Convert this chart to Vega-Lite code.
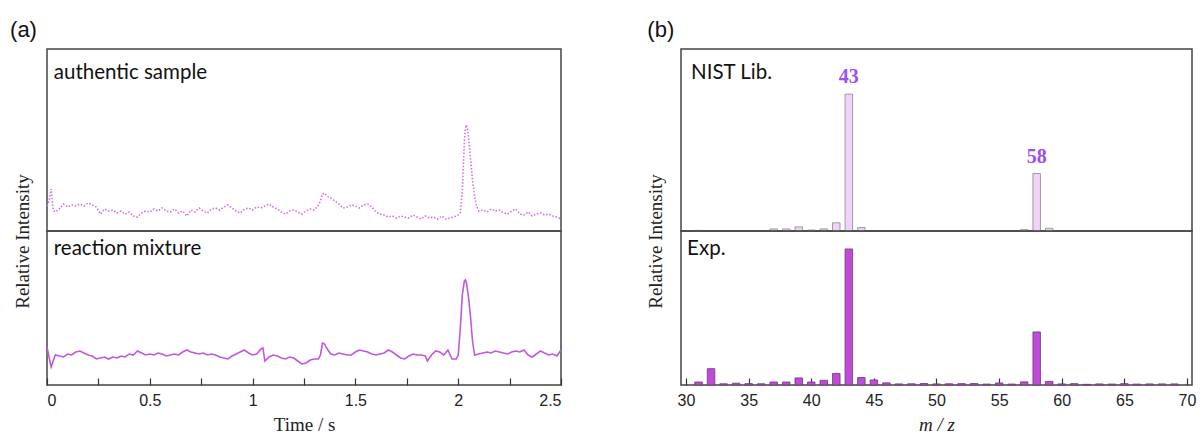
{
"$schema": "https://vega.github.io/schema/vega-lite/v6.json",
"background": "white",
"padding": {"left": 10, "top": 19, "right": 0, "bottom": 0},
"datasets": {
"a_auth": [
{"t":0.00,"v":25},{"t":0.01,"v":30},{"t":0.02,"v":42},{"t":0.03,"v":21},{"t":0.04,"v":19},{"t":0.06,"v":22},{"t":0.08,"v":27},{"t":0.10,"v":24},{"t":0.12,"v":26},{"t":0.14,"v":25},{"t":0.16,"v":27},{"t":0.18,"v":25},{"t":0.20,"v":28},{"t":0.22,"v":26},{"t":0.24,"v":24},{"t":0.26,"v":17},{"t":0.28,"v":22},{"t":0.30,"v":20},{"t":0.32,"v":21},{"t":0.34,"v":18},{"t":0.36,"v":20},{"t":0.38,"v":17},{"t":0.40,"v":19},{"t":0.42,"v":15},{"t":0.44,"v":14},{"t":0.46,"v":18},{"t":0.48,"v":20},{"t":0.50,"v":19},{"t":0.52,"v":22},{"t":0.54,"v":20},{"t":0.56,"v":23},{"t":0.58,"v":20},{"t":0.60,"v":19},{"t":0.62,"v":22},{"t":0.64,"v":18},{"t":0.66,"v":20},{"t":0.68,"v":15},{"t":0.70,"v":21},{"t":0.72,"v":19},{"t":0.74,"v":23},{"t":0.76,"v":20},{"t":0.78,"v":18},{"t":0.80,"v":22},{"t":0.82,"v":23},{"t":0.84,"v":21},{"t":0.86,"v":24},{"t":0.88,"v":26},{"t":0.90,"v":23},{"t":0.92,"v":20},{"t":0.94,"v":18},{"t":0.96,"v":22},{"t":0.98,"v":23},{"t":1.00,"v":21},{"t":1.02,"v":24},{"t":1.04,"v":23},{"t":1.06,"v":25},{"t":1.08,"v":27},{"t":1.10,"v":24},{"t":1.12,"v":22},{"t":1.14,"v":19},{"t":1.16,"v":17},{"t":1.18,"v":20},{"t":1.20,"v":21},{"t":1.22,"v":19},{"t":1.24,"v":17},{"t":1.26,"v":20},{"t":1.28,"v":22},{"t":1.30,"v":21},{"t":1.32,"v":26},{"t":1.33,"v":30},{"t":1.34,"v":37},{"t":1.35,"v":38},{"t":1.36,"v":35},{"t":1.38,"v":33},{"t":1.40,"v":30},{"t":1.42,"v":27},{"t":1.44,"v":23},{"t":1.46,"v":24},{"t":1.48,"v":26},{"t":1.50,"v":25},{"t":1.52,"v":23},{"t":1.54,"v":26},{"t":1.56,"v":27},{"t":1.58,"v":24},{"t":1.60,"v":19},{"t":1.62,"v":17},{"t":1.64,"v":16},{"t":1.66,"v":14},{"t":1.68,"v":15},{"t":1.70,"v":13},{"t":1.72,"v":15},{"t":1.74,"v":14},{"t":1.76,"v":13},{"t":1.78,"v":16},{"t":1.80,"v":14},{"t":1.82,"v":12},{"t":1.84,"v":15},{"t":1.86,"v":13},{"t":1.88,"v":14},{"t":1.90,"v":12},{"t":1.92,"v":15},{"t":1.94,"v":12},{"t":1.96,"v":13},{"t":1.98,"v":14},{"t":2.00,"v":16},{"t":2.01,"v":18},{"t":2.02,"v":40},{"t":2.03,"v":90},{"t":2.035,"v":103},{"t":2.04,"v":106},{"t":2.045,"v":102},{"t":2.05,"v":94},{"t":2.06,"v":72},{"t":2.07,"v":50},{"t":2.08,"v":34},{"t":2.09,"v":25},{"t":2.10,"v":20},{"t":2.12,"v":21},{"t":2.14,"v":19},{"t":2.16,"v":22},{"t":2.18,"v":20},{"t":2.20,"v":21},{"t":2.22,"v":18},{"t":2.24,"v":17},{"t":2.26,"v":20},{"t":2.28,"v":22},{"t":2.30,"v":17},{"t":2.32,"v":16},{"t":2.34,"v":19},{"t":2.36,"v":15},{"t":2.38,"v":17},{"t":2.40,"v":18},{"t":2.42,"v":16},{"t":2.44,"v":17},{"t":2.46,"v":15},{"t":2.48,"v":14},{"t":2.50,"v":12}
],
"a_rxn": [
{"t":0.00,"v":38},{"t":0.01,"v":28},{"t":0.02,"v":18},{"t":0.03,"v":24},{"t":0.04,"v":30},{"t":0.06,"v":29},{"t":0.08,"v":28},{"t":0.10,"v":31},{"t":0.12,"v":30},{"t":0.14,"v":33},{"t":0.16,"v":34},{"t":0.18,"v":32},{"t":0.20,"v":30},{"t":0.22,"v":29},{"t":0.24,"v":26},{"t":0.26,"v":27},{"t":0.28,"v":28},{"t":0.30,"v":26},{"t":0.32,"v":28},{"t":0.34,"v":27},{"t":0.36,"v":29},{"t":0.38,"v":28},{"t":0.40,"v":31},{"t":0.42,"v":30},{"t":0.44,"v":34},{"t":0.46,"v":32},{"t":0.48,"v":30},{"t":0.50,"v":31},{"t":0.52,"v":30},{"t":0.54,"v":32},{"t":0.56,"v":31},{"t":0.58,"v":29},{"t":0.60,"v":30},{"t":0.62,"v":31},{"t":0.64,"v":30},{"t":0.66,"v":33},{"t":0.68,"v":35},{"t":0.70,"v":33},{"t":0.72,"v":32},{"t":0.74,"v":31},{"t":0.76,"v":32},{"t":0.78,"v":30},{"t":0.80,"v":31},{"t":0.82,"v":30},{"t":0.84,"v":28},{"t":0.86,"v":27},{"t":0.88,"v":26},{"t":0.90,"v":29},{"t":0.92,"v":31},{"t":0.94,"v":33},{"t":0.96,"v":35},{"t":0.98,"v":32},{"t":1.00,"v":30},{"t":1.02,"v":31},{"t":1.04,"v":36},{"t":1.05,"v":37},{"t":1.06,"v":24},{"t":1.08,"v":28},{"t":1.10,"v":30},{"t":1.12,"v":29},{"t":1.14,"v":27},{"t":1.16,"v":26},{"t":1.18,"v":28},{"t":1.20,"v":27},{"t":1.22,"v":24},{"t":1.24,"v":21},{"t":1.26,"v":22},{"t":1.28,"v":25},{"t":1.30,"v":26},{"t":1.32,"v":26},{"t":1.33,"v":30},{"t":1.34,"v":42},{"t":1.35,"v":41},{"t":1.36,"v":37},{"t":1.38,"v":31},{"t":1.40,"v":30},{"t":1.42,"v":32},{"t":1.44,"v":31},{"t":1.46,"v":30},{"t":1.48,"v":30},{"t":1.50,"v":33},{"t":1.52,"v":35},{"t":1.54,"v":34},{"t":1.56,"v":33},{"t":1.58,"v":31},{"t":1.60,"v":30},{"t":1.62,"v":31},{"t":1.64,"v":32},{"t":1.66,"v":35},{"t":1.68,"v":33},{"t":1.70,"v":30},{"t":1.72,"v":27},{"t":1.74,"v":26},{"t":1.76,"v":29},{"t":1.78,"v":31},{"t":1.80,"v":30},{"t":1.82,"v":30},{"t":1.84,"v":29},{"t":1.85,"v":24},{"t":1.87,"v":30},{"t":1.89,"v":34},{"t":1.91,"v":33},{"t":1.93,"v":30},{"t":1.95,"v":35},{"t":1.97,"v":26},{"t":1.99,"v":26},{"t":2.00,"v":30},{"t":2.01,"v":56},{"t":2.02,"v":90},{"t":2.03,"v":104},{"t":2.035,"v":105},{"t":2.04,"v":102},{"t":2.05,"v":88},{"t":2.06,"v":68},{"t":2.07,"v":43},{"t":2.08,"v":30},{"t":2.10,"v":31},{"t":2.12,"v":32},{"t":2.14,"v":33},{"t":2.16,"v":32},{"t":2.18,"v":34},{"t":2.20,"v":33},{"t":2.22,"v":32},{"t":2.24,"v":31},{"t":2.26,"v":33},{"t":2.28,"v":34},{"t":2.30,"v":33},{"t":2.32,"v":35},{"t":2.34,"v":30},{"t":2.36,"v":28},{"t":2.38,"v":31},{"t":2.40,"v":34},{"t":2.42,"v":32},{"t":2.44,"v":30},{"t":2.46,"v":31},{"t":2.48,"v":29},{"t":2.50,"v":35}
],
"b_nist": [
{"mz":31,"i":0.5},{"mz":37,"i":1.5},{"mz":38,"i":1.5},{"mz":39,"i":3},{"mz":40,"i":0.7},{"mz":41,"i":1.5},{"mz":42,"i":6},{"mz":43,"i":100},{"mz":44,"i":2.5},{"mz":57,"i":1},{"mz":58,"i":42},{"mz":59,"i":2}
],
"b_exp": [
{"mz":31,"i":2.2},{"mz":32,"i":12},{"mz":33,"i":0.9},{"mz":34,"i":1.3},{"mz":35,"i":1},{"mz":36,"i":0.9},{"mz":37,"i":2.2},{"mz":38,"i":2.2},{"mz":39,"i":5.2},{"mz":40,"i":2.2},{"mz":41,"i":3.5},{"mz":42,"i":8.5},{"mz":43,"i":100},{"mz":44,"i":5.5},{"mz":45,"i":3.7},{"mz":46,"i":1.6},{"mz":47,"i":0.8},{"mz":48,"i":0.9},{"mz":49,"i":1.1},{"mz":50,"i":0.8},{"mz":51,"i":0.9},{"mz":52,"i":1},{"mz":53,"i":1.1},{"mz":54,"i":0.7},{"mz":55,"i":1.5},{"mz":56,"i":0.7},{"mz":57,"i":2.3},{"mz":58,"i":39},{"mz":59,"i":2.6},{"mz":60,"i":0.8},{"mz":61,"i":1},{"mz":62,"i":0.5},{"mz":63,"i":0.8},{"mz":64,"i":0.7},{"mz":65,"i":1},{"mz":66,"i":0.7},{"mz":67,"i":0.8},{"mz":68,"i":0.8},{"mz":69,"i":0.8}
]
},
"config": {
"view": {"stroke": "#444", "strokeWidth": 1.5},
"axis": {"labelFont": "Liberation Sans", "labelFontSize": 16, "labelColor": "#222", "titleFont": "Liberation Serif", "titleFontSize": 19, "titleFontWeight": "normal", "titleColor": "#222", "domain": false, "grid": false, "tickSize": -7, "tickColor": "#333", "tickWidth": 1.2, "labelPadding": 14, "titlePadding": 7, "zindex": 1}
},
"spacing": 82,
"hconcat": [
{
"title": {"text": "(a)", "anchor": "start", "dx": -4, "font": "Liberation Sans", "fontSize": 22, "fontWeight": "normal", "color": "#111", "offset": 6},
"vconcat": [
{
"title": {"text": "Relative Intensity", "orient": "left", "anchor": "middle", "font": "Liberation Serif", "fontSize": 19, "fontWeight": "normal", "color": "#222", "offset": 10},
"spacing": 0,
"bounds": "flush",
"vconcat": [
{
"data": {"name": "a_auth"}, "width": 514, "height": 182,
"title": {"text": "authentic sample", "anchor": "start", "orient": "top", "offset": -50, "dx": 10, "baseline": "alphabetic", "font": "Lato", "fontSize": 20.5, "fontWeight": "normal", "color": "#111"},
"mark": {"type": "line", "color": "#d36ef0", "strokeWidth": 1.6, "strokeDash": [1.5, 1.8]},
"encoding": {
"x": {"field": "t", "type": "quantitative", "scale": {"domain": [0, 2.5], "nice": false, "zero": false}, "axis": null},
"y": {"field": "v", "type": "quantitative", "scale": {"domain": [0, 182], "nice": false}, "axis": null}
}
},
{
"data": {"name": "a_rxn"}, "width": 514, "height": 154,
"title": {"text": "reaction mixture", "anchor": "start", "orient": "top", "offset": -44, "dx": 10, "baseline": "alphabetic", "font": "Lato", "fontSize": 20.5, "fontWeight": "normal", "color": "#111"},
"mark": {"type": "line", "color": "#c158e0", "strokeWidth": 1.6},
"encoding": {
"x": {"field": "t", "type": "quantitative", "scale": {"domain": [0, 2.5], "nice": false, "zero": false}, "axis": {"title": "Time / s", "values": [0, 0.25, 0.5, 0.75, 1, 1.25, 1.5, 1.75, 2, 2.25, 2.5], "labelExpr": "datum.value % 0.5 === 0 ? format(datum.value, '~g') : ''"}},
"y": {"field": "v", "type": "quantitative", "scale": {"domain": [0, 154], "nice": false}, "axis": null}
}
}
]
}
]
},
{
"title": {"text": "(b)", "anchor": "start", "dx": 0, "font": "Liberation Sans", "fontSize": 22, "fontWeight": "normal", "color": "#111", "offset": 6},
"vconcat": [
{
"title": {"text": "Relative Intensity", "orient": "left", "anchor": "middle", "font": "Liberation Serif", "fontSize": 19, "fontWeight": "normal", "color": "#222", "offset": 10},
"spacing": 0,
"bounds": "flush",
"vconcat": [
{
"data": {"name": "b_nist"}, "width": 511, "height": 182,
"title": {"text": "NIST Lib.", "anchor": "start", "orient": "top", "offset": -50, "dx": 10, "baseline": "alphabetic", "font": "Lato", "fontSize": 20.5, "fontWeight": "normal", "color": "#111"},
"layer": [
{
"mark": {"type": "bar", "width": 7.5, "fill": "#f0d3f7", "stroke": "#888", "strokeWidth": 0.8},
"encoding": {
"x": {"field": "mz", "type": "quantitative", "scale": {"domain": [30, 70], "nice": false, "zero": false}, "axis": null},
"y": {"field": "i", "type": "quantitative", "scale": {"domain": [0, 133], "nice": false}, "axis": null}
}
},
{
"transform": [{"filter": "datum.i > 30"}],
"mark": {"type": "text", "font": "Liberation Serif", "fontWeight": "bold", "fontSize": 20, "color": "#9d4ef0", "baseline": "bottom", "dy": -7},
"encoding": {
"x": {"field": "mz", "type": "quantitative"},
"y": {"field": "i", "type": "quantitative"},
"text": {"field": "mz", "type": "nominal"}
}
}
]
},
{
"data": {"name": "b_exp"}, "width": 511, "height": 154,
"title": {"text": "Exp.", "anchor": "start", "orient": "top", "offset": -44, "dx": 10, "baseline": "alphabetic", "font": "Lato", "fontSize": 20.5, "fontWeight": "normal", "color": "#111"},
"mark": {"type": "bar", "width": 7.5, "fill": "#c04bd8", "stroke": "#6a3a70", "strokeWidth": 0.8},
"encoding": {
"x": {"field": "mz", "type": "quantitative", "scale": {"domain": [30, 70], "nice": false, "zero": false}, "axis": {"title": "m / z", "titleFontStyle": "italic", "values": [30, 35, 40, 45, 50, 55, 60, 65, 70], "format": "d"}},
"y": {"field": "i", "type": "quantitative", "scale": {"domain": [0, 113.2], "nice": false}, "axis": null}
}
}
]
}
]
}
]
}
